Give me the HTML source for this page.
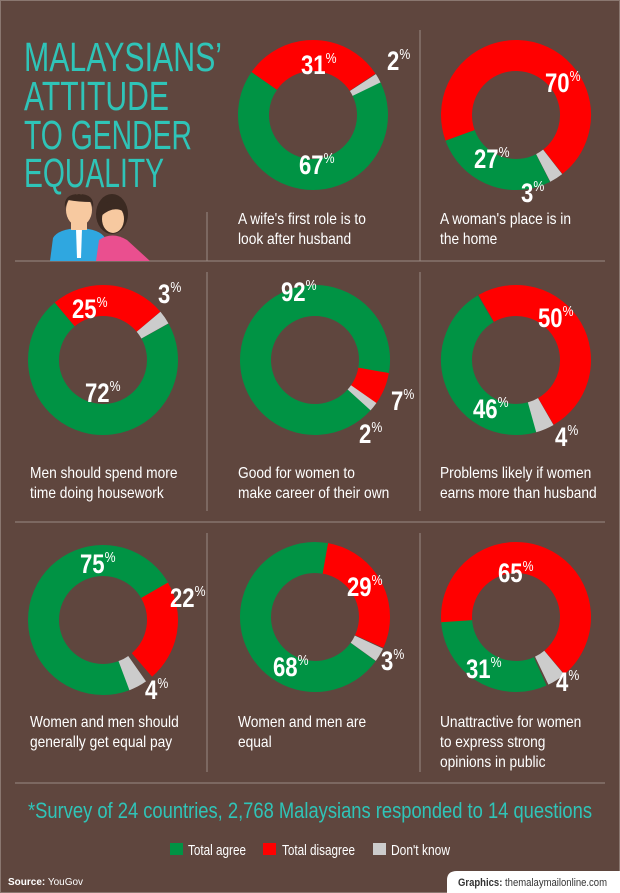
<!DOCTYPE html>
<html><head><meta charset="utf-8"><style>
body{margin:0;background:#5f463e;}
svg{display:block}
.n{font-family:"Liberation Sans",sans-serif;font-weight:bold;fill:#fff;font-size:27px}
.p{font-size:15px;font-weight:normal}
.c{font-family:"Liberation Sans",sans-serif;fill:#fff;font-size:16px}
.t{font-family:"Liberation Sans",sans-serif;fill:#2fc4b8;font-size:41px}
</style></head><body>
<svg width="620" height="893" viewBox="0 0 620 893" xmlns="http://www.w3.org/2000/svg">
<rect width="620" height="893" fill="#5f463e"/>
<rect x="0.5" y="0.5" width="619" height="892" fill="none" stroke="#8a7770"/>
<g stroke="#9a8a84" stroke-width="1">
<line x1="15" y1="261" x2="605" y2="261"/><line x1="15" y1="522" x2="605" y2="522"/><line x1="15" y1="783" x2="605" y2="783"/>
<line x1="207" y1="212" x2="207" y2="261"/><line x1="420" y1="30" x2="420" y2="261"/>
<line x1="207" y1="272" x2="207" y2="511"/><line x1="420" y1="272" x2="420" y2="511"/>
<line x1="207" y1="533" x2="207" y2="772"/><line x1="420" y1="533" x2="420" y2="772"/>
</g>
<g class="t">
<text x="24" y="71" textLength="198" lengthAdjust="spacingAndGlyphs">MALAYSIANS’</text>
<text x="24" y="110" textLength="145" lengthAdjust="spacingAndGlyphs">ATTITUDE</text>
<text x="24" y="149" textLength="168" lengthAdjust="spacingAndGlyphs">TO GENDER</text>
<text x="24" y="187" textLength="140" lengthAdjust="spacingAndGlyphs">EQUALITY</text>
</g>
<g>
<path d="M50 261 L53 238 Q58 229 79 228 Q100 229 105 238 L108 261Z" fill="#2fa7e0"/>
<polygon points="76,229 82,229 81,258 77,258" fill="#fff"/>
<rect x="71" y="214" width="16" height="16" fill="#f7c9a0"/>
<ellipse cx="79" cy="210" rx="13" ry="16" fill="#f7c9a0"/>
<path d="M65 208 Q63 194 79 194 Q95 194 93 208 L91 202 Q79 202 68 200Z" fill="#3b2a22"/>
<ellipse cx="112" cy="214" rx="16" ry="20" fill="#3b2a22"/>
<path d="M96 261 L99 240 Q112 231 127 240 L150 261Z" fill="#ea4f8f"/>
<ellipse cx="113" cy="219" rx="11" ry="14" fill="#f7c9a0"/>
<path d="M101 216 Q102 201 113 201 Q125 201 124 212 Q114 205 101 216Z" fill="#3b2a22"/>
</g>
<g fill="none" stroke-width="31">
<g transform="translate(313,115)">
<circle r="59.5" pathLength="100" stroke="#009344" stroke-dasharray="67 100" transform="rotate(-26)"/>
<circle r="59.5" pathLength="100" stroke="#ff0000" stroke-dasharray="31 100" transform="rotate(-145)"/>
<circle r="59.5" pathLength="100" stroke="#cccccc" stroke-dasharray="2 100" transform="rotate(-33)"/>
</g>
<g transform="translate(516,115)">
<circle r="59.5" pathLength="100" stroke="#009344" stroke-dasharray="27 100" transform="rotate(63)"/>
<circle r="59.5" pathLength="100" stroke="#ff0000" stroke-dasharray="70 100" transform="rotate(-200)"/>
<circle r="59.5" pathLength="100" stroke="#cccccc" stroke-dasharray="3 100" transform="rotate(52)"/>
</g>
<g transform="translate(103,360)">
<circle r="59.5" pathLength="100" stroke="#009344" stroke-dasharray="72 100" transform="rotate(-29)"/>
<circle r="59.5" pathLength="100" stroke="#ff0000" stroke-dasharray="25 100" transform="rotate(-130)"/>
<circle r="59.5" pathLength="100" stroke="#cccccc" stroke-dasharray="3 100" transform="rotate(-40)"/>
</g>
<g transform="translate(315,360)">
<circle r="59.5" pathLength="100" stroke="#009344" stroke-dasharray="92 100" transform="rotate(42)"/>
<circle r="59.5" pathLength="100" stroke="#ff0000" stroke-dasharray="7 100" transform="rotate(10)"/>
<circle r="59.5" pathLength="100" stroke="#cccccc" stroke-dasharray="2 100" transform="rotate(35)"/>
</g>
<g transform="translate(516,360)">
<circle r="59.5" pathLength="100" stroke="#009344" stroke-dasharray="46 100" transform="rotate(74)"/>
<circle r="59.5" pathLength="100" stroke="#ff0000" stroke-dasharray="50 100" transform="rotate(-120)"/>
<circle r="59.5" pathLength="100" stroke="#cccccc" stroke-dasharray="4 100" transform="rotate(60)"/>
</g>
<g transform="translate(103,620)">
<circle r="59.5" pathLength="100" stroke="#009344" stroke-dasharray="75 100" transform="rotate(68)"/>
<circle r="59.5" pathLength="100" stroke="#ff0000" stroke-dasharray="22 100" transform="rotate(-30)"/>
<circle r="59.5" pathLength="100" stroke="#cccccc" stroke-dasharray="4 100" transform="rotate(55)"/>
</g>
<g transform="translate(315,617)">
<circle r="59.5" pathLength="100" stroke="#009344" stroke-dasharray="68 100" transform="rotate(36)"/>
<circle r="59.5" pathLength="100" stroke="#ff0000" stroke-dasharray="29 100" transform="rotate(-80)"/>
<circle r="59.5" pathLength="100" stroke="#cccccc" stroke-dasharray="3 100" transform="rotate(25)"/>
</g>
<g transform="translate(516,617)">
<circle r="59.5" pathLength="100" stroke="#009344" stroke-dasharray="31 100" transform="rotate(66)"/>
<circle r="59.5" pathLength="100" stroke="#ff0000" stroke-dasharray="65 100" transform="rotate(-184)"/>
<circle r="59.5" pathLength="100" stroke="#cccccc" stroke-dasharray="4 100" transform="rotate(50)"/>
</g>
</g>
<g class="n">
<text transform="translate(301,74) scale(0.82,1)">31<tspan class="p" dy="-11">%</tspan></text>
<text transform="translate(387,70) scale(0.82,1)">2<tspan class="p" dy="-11">%</tspan></text>
<text transform="translate(299,174) scale(0.82,1)">67<tspan class="p" dy="-11">%</tspan></text>
<text transform="translate(545,92) scale(0.82,1)">70<tspan class="p" dy="-11">%</tspan></text>
<text transform="translate(474,168) scale(0.82,1)">27<tspan class="p" dy="-11">%</tspan></text>
<text transform="translate(521,202) scale(0.82,1)">3<tspan class="p" dy="-11">%</tspan></text>
<text transform="translate(72,318) scale(0.82,1)">25<tspan class="p" dy="-11">%</tspan></text>
<text transform="translate(158,303) scale(0.82,1)">3<tspan class="p" dy="-11">%</tspan></text>
<text transform="translate(85,402) scale(0.82,1)">72<tspan class="p" dy="-11">%</tspan></text>
<text transform="translate(281,301) scale(0.82,1)">92<tspan class="p" dy="-11">%</tspan></text>
<text transform="translate(391,410) scale(0.82,1)">7<tspan class="p" dy="-11">%</tspan></text>
<text transform="translate(359,443) scale(0.82,1)">2<tspan class="p" dy="-11">%</tspan></text>
<text transform="translate(538,327) scale(0.82,1)">50<tspan class="p" dy="-11">%</tspan></text>
<text transform="translate(473,418) scale(0.82,1)">46<tspan class="p" dy="-11">%</tspan></text>
<text transform="translate(555,446) scale(0.82,1)">4<tspan class="p" dy="-11">%</tspan></text>
<text transform="translate(80,573) scale(0.82,1)">75<tspan class="p" dy="-11">%</tspan></text>
<text transform="translate(170,607) scale(0.82,1)">22<tspan class="p" dy="-11">%</tspan></text>
<text transform="translate(145,699) scale(0.82,1)">4<tspan class="p" dy="-11">%</tspan></text>
<text transform="translate(347,596) scale(0.82,1)">29<tspan class="p" dy="-11">%</tspan></text>
<text transform="translate(273,676) scale(0.82,1)">68<tspan class="p" dy="-11">%</tspan></text>
<text transform="translate(381,670) scale(0.82,1)">3<tspan class="p" dy="-11">%</tspan></text>
<text transform="translate(498,582) scale(0.82,1)">65<tspan class="p" dy="-11">%</tspan></text>
<text transform="translate(466,678) scale(0.82,1)">31<tspan class="p" dy="-11">%</tspan></text>
<text transform="translate(556,691) scale(0.82,1)">4<tspan class="p" dy="-11">%</tspan></text>
</g>
<g class="c">
<g transform="translate(238,0) scale(0.86,1)"><text x="0" y="224">A wife's first role is to</text><text x="0" y="244">look after husband</text></g>
<g transform="translate(440,0) scale(0.86,1)"><text x="0" y="224">A woman's place is in</text><text x="0" y="244">the home</text></g>
<g transform="translate(30,0) scale(0.86,1)"><text x="0" y="478">Men should spend more</text><text x="0" y="498">time doing housework</text></g>
<g transform="translate(238,0) scale(0.86,1)"><text x="0" y="478">Good for women to</text><text x="0" y="498">make career of their own</text></g>
<g transform="translate(440,0) scale(0.86,1)"><text x="0" y="478">Problems likely if women</text><text x="0" y="498">earns more than husband</text></g>
<g transform="translate(30,0) scale(0.86,1)"><text x="0" y="727">Women and men should</text><text x="0" y="747">generally get equal pay</text></g>
<g transform="translate(238,0) scale(0.86,1)"><text x="0" y="727">Women and men are</text><text x="0" y="747">equal</text></g>
<g transform="translate(440,0) scale(0.86,1)"><text x="0" y="727">Unattractive for women</text><text x="0" y="747">to express strong</text><text x="0" y="767">opinions in public</text></g>
</g>
<text x="28" y="818" font-family="Liberation Sans, sans-serif" font-size="22" fill="#2fc4b8" textLength="564" lengthAdjust="spacingAndGlyphs">*Survey of 24 countries, 2,768 Malaysians responded to 14 questions</text>
<g font-family="Liberation Sans, sans-serif" font-size="15" fill="#fff">
<rect x="170" y="843" width="13" height="12" fill="#009344"/><text x="188" y="855" textLength="58" lengthAdjust="spacingAndGlyphs">Total agree</text>
<rect x="263" y="843" width="13" height="12" fill="#ff0000"/><text x="282" y="855" textLength="73" lengthAdjust="spacingAndGlyphs">Total disagree</text>
<rect x="373" y="843" width="13" height="12" fill="#cccccc"/><text x="391" y="855" textLength="59" lengthAdjust="spacingAndGlyphs">Don't know</text>
<text x="8" y="885" font-size="10"><tspan font-weight="bold">Source:</tspan> YouGov</text>
</g>
<path d="M447 893 L447 880 Q447 871 457 871 L620 871 L620 893Z" fill="#fff"/>
<text x="458" y="886" font-family="Liberation Sans, sans-serif" font-size="11" fill="#333" textLength="149" lengthAdjust="spacingAndGlyphs"><tspan font-weight="bold">Graphics:</tspan> themalaymailonline.com</text>
</svg>
</body></html>
